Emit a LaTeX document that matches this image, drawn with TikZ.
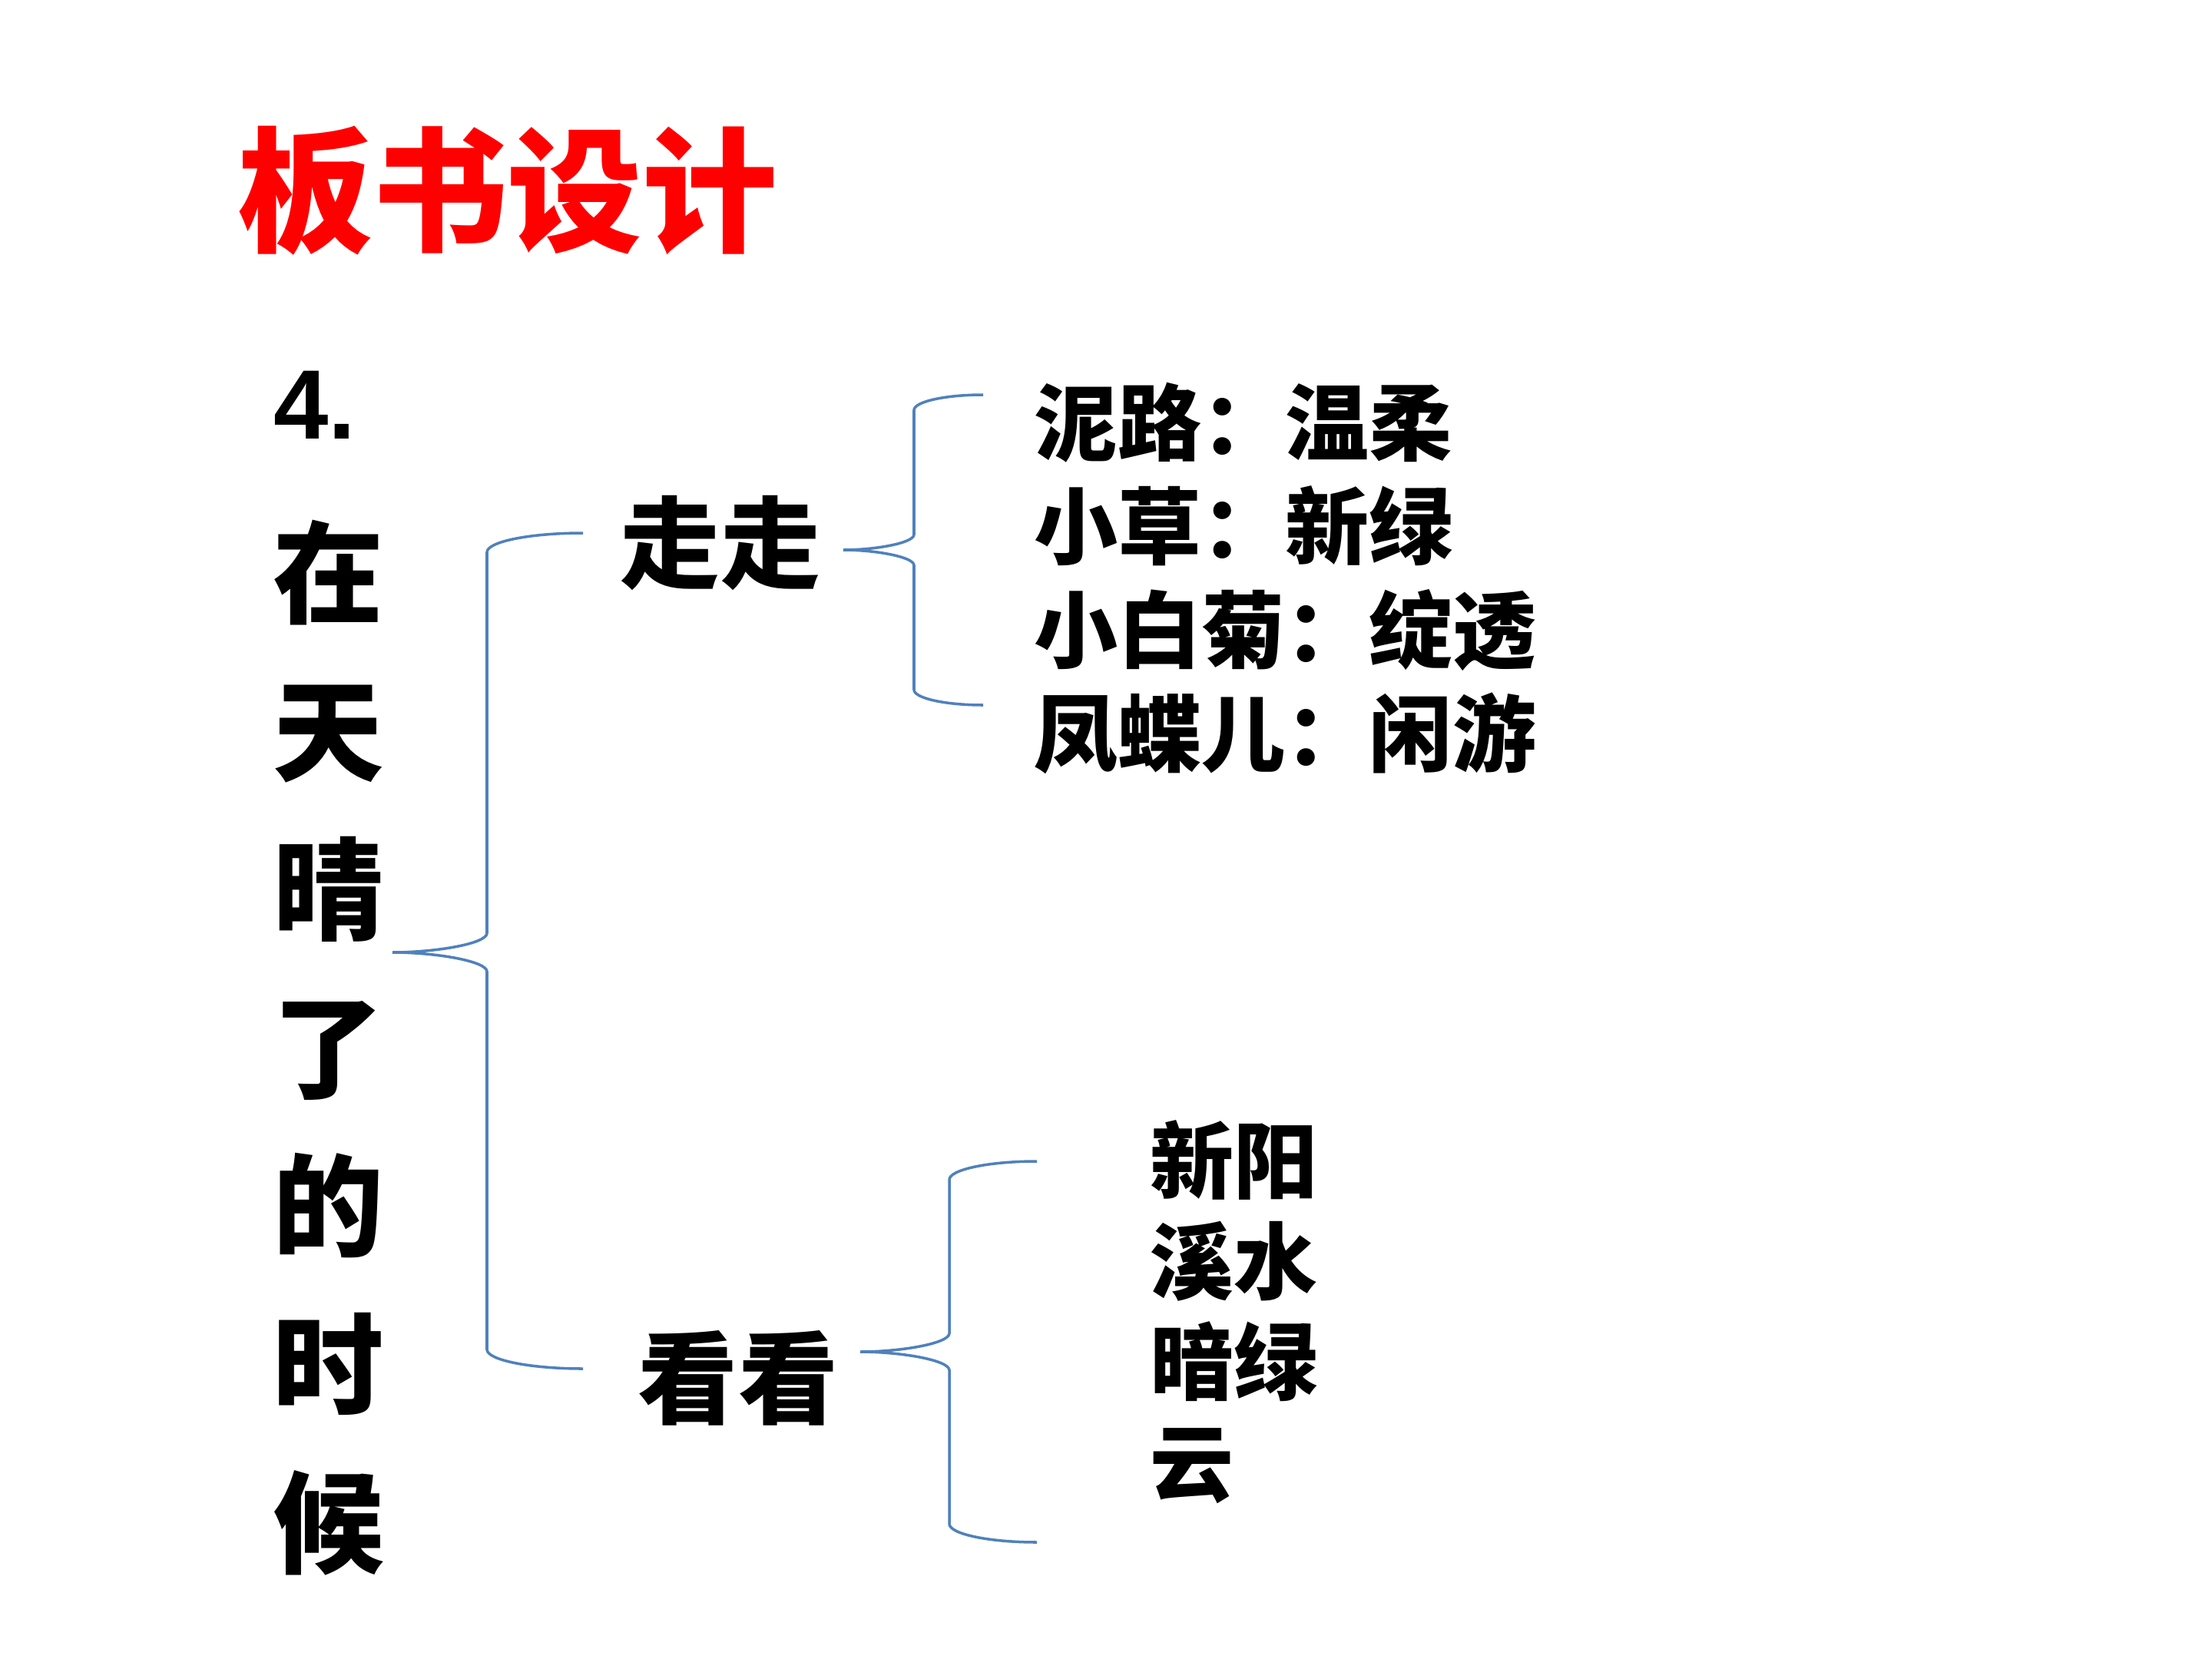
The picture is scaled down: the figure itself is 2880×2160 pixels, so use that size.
\documentclass[tikz,border=0pt]{standalone}
\usepackage{fontspec}
\setmainfont{Liberation Sans}
\newfontfamily\cjk{Noto Sans CJK SC}
\definecolor{bracecol}{HTML}{4F81BD}
\newcommand\drawbr[7]{% tipx, midy, vx, endx, topy, boty, arc height
  \draw[brace] (#4,#5) .. controls ({#3+0.45*(#4-#3)},#5) and (#3,{#5+0.45*#7}) .. (#3,{#5+#7})
    -- (#3,{#2-#7}) .. controls (#3,{#2-0.45*#7}) and ({#1+0.45*(#3-#1)},#2) .. (#1,#2)
    .. controls ({#1+0.45*(#3-#1)},#2) and (#3,{#2+0.45*#7}) .. (#3,{#2+#7})
    -- (#3,{#6-#7}) .. controls (#3,{#6-0.45*#7}) and ({#3+0.45*(#4-#3)},#6) .. (#4,#6);}
\begin{document}
\begin{tikzpicture}[x=0.01cm,y=-0.01cm,
  brace/.style={draw=bracecol,line width=1pt},
  txt/.style={inner sep=0pt,outer sep=0pt}]
\useasboundingbox[fill=white] (0,0) rectangle (2880,2160);
\node[txt, text=red, font=\cjk\bfseries\fontsize{50}{60}\selectfont] (title) at (661,248) {板书设计};
\node[txt, font=\bfseries\fontsize{36.5}{40}\selectfont] (num) at (410,527) {4.};
\node[txt, align=center, font=\cjk\bfseries\fontsize{41}{58.6}\selectfont] (col) at (428,1364) {在\\天\\晴\\了\\的\\时\\候};
\node[txt, font=\cjk\bfseries\fontsize{37}{40}\selectfont] (zz) at (938,707) {走走};
\node[txt, font=\cjk\bfseries\fontsize{37}{40}\selectfont] (kk) at (961,1794) {看看};
\node[txt, anchor=west, align=left, font=\cjk\bfseries\fontsize{31}{38.3}\selectfont] (upl) at (1346,753) {泥路：温柔\\小草：新绿\\小白菊：绽透\\凤蝶儿：闲游};
\node[txt, anchor=west, align=left, font=\cjk\bfseries\fontsize{31}{37.3}\selectfont] (lowl) at (1497,1708) {新阳\\溪水\\暗绿\\云};
\drawbr{511}{1240}{634}{759}{694}{1782}{25}
\drawbr{1098}{716}{1190}{1280}{514}{918}{20}
\drawbr{1120}{1760}{1236}{1350}{1512}{2008}{24}
\end{tikzpicture}
\end{document}
